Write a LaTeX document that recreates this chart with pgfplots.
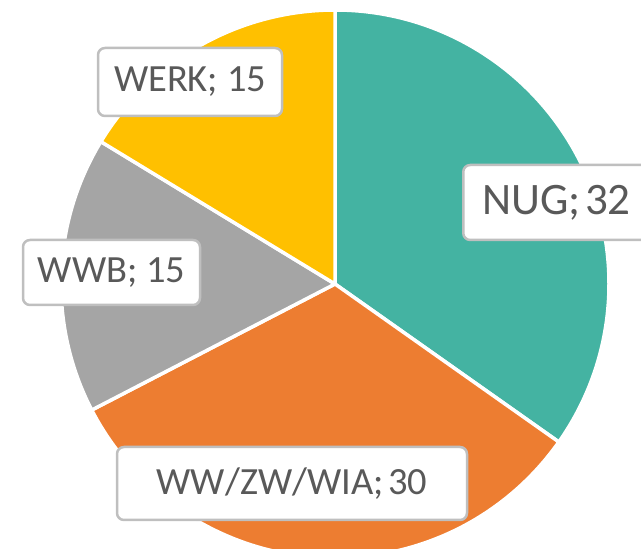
\documentclass[border=0pt]{standalone}
\usepackage{fontspec}
\setmainfont{Carlito}
\usepackage{pgfplots}
\usepackage{pgfplotstable}
\pgfplotsset{compat=1.18}
\definecolor{nug}{HTML}{44B3A2}
\definecolor{wwz}{HTML}{ED7D31}
\definecolor{wwb}{HTML}{A5A5A5}
\definecolor{werk}{HTML}{FFC000}
\definecolor{lbltext}{HTML}{595959}
\definecolor{lblline}{HTML}{BFBFBF}

\pgfplotstableread{
value col
32 nug
30 wwz
15 wwb
15 werk
}\piedata

\begin{document}
\begin{tikzpicture}
\useasboundingbox (0,0) rectangle (641pt,549pt);
\clip (0,0) rectangle (641pt,549pt);
\begin{axis}[
  at={(0,0)}, anchor=south west,
  scale only axis, width=641pt, height=549pt,
  xmin=-335, xmax=306, ymin=-265, ymax=284,
  axis lines=none, clip=false,
]
\def\pieA{90}
\pgfplotsforeachungrouped \i in {0,...,3}{
  \pgfplotstablegetelem{\i}{value}\of\piedata \let\pieV\pgfplotsretval
  \pgfplotstablegetelem{\i}{col}\of\piedata \let\pieC\pgfplotsretval
  \pgfmathsetmacro\pieB{\pieA-360*\pieV/92}
  \edef\piecmd{\noexpand\filldraw[fill=\pieC, draw=white, line width=3.5pt, line join=round]
    (axis cs:0,0) -- (axis cs:{274*cos(\pieA)},{274*sin(\pieA)})
    arc[start angle=\pieA, end angle=\pieB, radius=274pt] -- cycle;}
  \piecmd
  \global\let\pieA\pieB
}
\tikzset{lbl/.style={draw=lblline, line width=2.5pt, fill=white, rounded corners=7pt,
  text=lbltext, inner sep=0pt, align=center}}
\node[lbl, minimum width=184pt, minimum height=68pt, font=\fontsize{38.5}{40}\selectfont]
  at (axis cs:-145,202) {WERK; 15};
\node[lbl, minimum width=177pt, minimum height=65pt, font=\fontsize{38.5}{40}\selectfont]
  at (axis cs:-223.5,11.5) {WWB; 15};
\node[lbl, minimum width=350pt, minimum height=73pt, font=\fontsize{38.5}{40}\selectfont]
  at (axis cs:-43,-199.5) {WW/ZW/WIA;\hspace{0.12em}30};
\node[lbl, anchor=west, minimum width=200pt, minimum height=75pt, text width=190pt, align=left,
  font=\fontsize{45}{48}\selectfont]
  at (axis cs:127,81.5) {\hspace*{14pt}NUG;\hspace{0.1em}32};
\end{axis}
\end{tikzpicture}
\end{document}
